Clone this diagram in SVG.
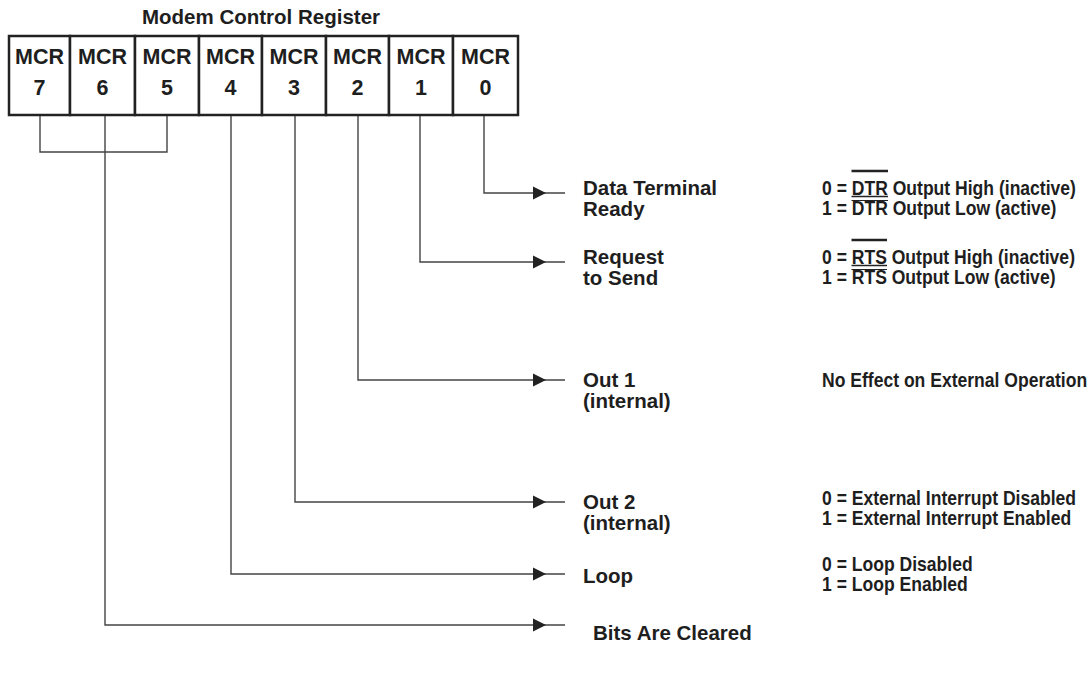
<svg xmlns="http://www.w3.org/2000/svg" width="1091" height="684" viewBox="0 0 1091 684">
<style>
text{font-family:"Liberation Sans",Arial,sans-serif;font-weight:bold;fill:#1e1e1e}
.title{font-size:20.5px}
.cell rect{fill:#fff;stroke:#222;stroke-width:2.5}
.cell text{font-size:21.5px;text-anchor:middle}
.lbl{font-size:20.5px}
.val{font-size:19.5px}
.wire{fill:none;stroke:#444;stroke-width:1.4}
.bar{stroke:#222;fill:none}
</style>
<defs>
<path id="ah" d="M0,0 L-13,-6.5 L-13,6.5 Z" fill="#222"/>
</defs>
<rect width="1091" height="684" fill="#fff"/>
<g id="register">
<text class="title" x="261" y="24" text-anchor="middle">Modem Control Register</text>
<g id="mcr7" class="cell"><rect x="9" y="36" width="61" height="79"/><text x="39.5" y="64">MCR</text><text x="39.5" y="95">7</text></g>
<g id="mcr6" class="cell"><rect x="70" y="36" width="65" height="79"/><text x="102.5" y="64">MCR</text><text x="102.5" y="95">6</text></g>
<g id="mcr5" class="cell"><rect x="135" y="36" width="64" height="79"/><text x="167" y="64">MCR</text><text x="167" y="95">5</text></g>
<g id="mcr4" class="cell"><rect x="199" y="36" width="63" height="79"/><text x="230.5" y="64">MCR</text><text x="230.5" y="95">4</text></g>
<g id="mcr3" class="cell"><rect x="262" y="36" width="64" height="79"/><text x="294" y="64">MCR</text><text x="294" y="95">3</text></g>
<g id="mcr2" class="cell"><rect x="326" y="36" width="63" height="79"/><text x="357.5" y="64">MCR</text><text x="357.5" y="95">2</text></g>
<g id="mcr1" class="cell"><rect x="389" y="36" width="64" height="79"/><text x="421" y="64">MCR</text><text x="421" y="95">1</text></g>
<g id="mcr0" class="cell"><rect x="453" y="36" width="65" height="79"/><text x="485.5" y="64">MCR</text><text x="485.5" y="95">0</text></g>
</g>
<g id="connectors">
<path class="wire" d="M40,116 V152 H167 V116"/>
<path class="wire" d="M105,116 V625 H565"/>
<path class="wire" d="M231,116 V574 H565"/>
<path class="wire" d="M295,116 V502 H565"/>
<path class="wire" d="M358,116 V380 H565"/>
<path class="wire" d="M420,116 V262 H565"/>
<path class="wire" d="M484,116 V193 H565"/>
<use href="#ah" x="546" y="193"/>
<use href="#ah" x="546" y="262"/>
<use href="#ah" x="546" y="380"/>
<use href="#ah" x="546" y="502"/>
<use href="#ah" x="546" y="574"/>
<use href="#ah" x="546" y="625"/>
</g>
<g id="dtr">
<text class="lbl" x="583" y="195">Data Terminal</text>
<text class="lbl" x="583" y="216">Ready</text>
<g transform="translate(822,0) scale(0.9,1)">
<text class="val" x="0" y="195">0 = DTR Output High (inactive)</text>
<text class="val" x="0" y="215">1 = DTR Output Low (active)</text>
</g>
<line class="bar" x1="851.5" y1="171" x2="888" y2="171" stroke-width="2.5"/>
<line class="bar" x1="851.5" y1="196.5" x2="888" y2="196.5" stroke-width="1.5"/>
<line class="bar" x1="851.5" y1="200.5" x2="888" y2="200.5" stroke-width="1.2"/>
</g>
<g id="rts">
<text class="lbl" x="583" y="264">Request</text>
<text class="lbl" x="583" y="285">to Send</text>
<g transform="translate(822,0) scale(0.9,1)">
<text class="val" x="0" y="264">0 = RTS Output High (inactive)</text>
<text class="val" x="0" y="284">1 = RTS Output Low (active)</text>
</g>
<line class="bar" x1="851.5" y1="240" x2="887" y2="240" stroke-width="2.5"/>
<line class="bar" x1="851.5" y1="265.5" x2="887" y2="265.5" stroke-width="1.5"/>
<line class="bar" x1="851.5" y1="269.5" x2="887" y2="269.5" stroke-width="1.2"/>
</g>
<g id="out1">
<text class="lbl" x="583" y="387">Out 1</text>
<text class="lbl" x="583" y="408">(internal)</text>
<g transform="translate(822,0) scale(0.9,1)">
<text class="val" x="0" y="387">No Effect on External Operation</text>
</g>
</g>
<g id="out2">
<text class="lbl" x="583" y="509">Out 2</text>
<text class="lbl" x="583" y="530">(internal)</text>
<g transform="translate(822,0) scale(0.9,1)">
<text class="val" x="0" y="505">0 = External Interrupt Disabled</text>
<text class="val" x="0" y="525">1 = External Interrupt Enabled</text>
</g>
</g>
<g id="loop">
<text class="lbl" x="583" y="583">Loop</text>
<g transform="translate(822,0) scale(0.9,1)">
<text class="val" x="0" y="571">0 = Loop Disabled</text>
<text class="val" x="0" y="591">1 = Loop Enabled</text>
</g>
</g>
<g id="cleared">
<text class="lbl" x="593" y="640">Bits Are Cleared</text>
</g>
</svg>
